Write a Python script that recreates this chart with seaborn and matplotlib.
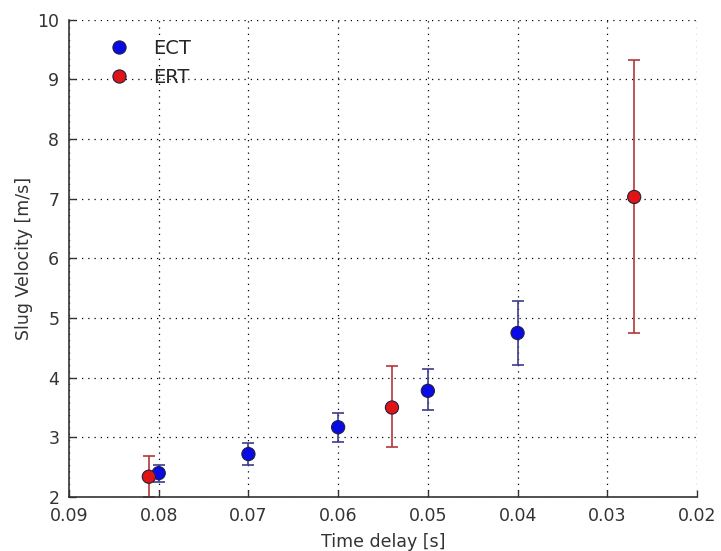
import numpy as np
import pandas as pd
import seaborn as sns
import matplotlib.pyplot as plt

# ECT measurements
ect_delay = [0.080, 0.070, 0.060, 0.050, 0.040]
ect_vel = [2.40, 2.72, 3.17, 3.78, 4.75]
ect_lo = [2.25, 2.54, 2.92, 3.46, 4.22]
ect_hi = [2.54, 2.91, 3.41, 4.14, 5.29]

# ERT measurements
ert_delay = [0.0811, 0.054, 0.027]
ert_vel = [2.34, 3.50, 7.03]
ert_lo = [2.00, 2.84, 4.75]
ert_hi = [2.68, 4.20, 9.33]

x_ticks = [0.09, 0.08, 0.07, 0.06, 0.05, 0.04, 0.03, 0.02]
y_ticks = [2, 3, 4, 5, 6, 7, 8, 9, 10]

df = pd.DataFrame({
    'delay': ect_delay + ert_delay,
    'vel': ect_vel + ert_vel,
    'method': ['ECT'] * len(ect_delay) + ['ERT'] * len(ert_delay),
})

sns.set_style('ticks')
plt.rcParams['font.family'] = ['DejaVu Sans']

fig = plt.figure(figsize=(7.21, 5.51), dpi=100)
ax = fig.add_axes([0.0957, 0.098, 0.871, 0.866])

# error bars first so the markers sit on top
ax.errorbar(ect_delay, ect_vel,
            yerr=[np.subtract(ect_vel, ect_lo), np.subtract(ect_hi, ect_vel)],
            fmt='none', ecolor='#3c3c8c', elinewidth=1.2, capsize=4, capthick=1.2, zorder=2)
ax.errorbar(ert_delay, ert_vel,
            yerr=[np.subtract(ert_vel, ert_lo), np.subtract(ert_hi, ert_vel)],
            fmt='none', ecolor='#b03838', elinewidth=1.2, capsize=4, capthick=1.2, zorder=2)

sns.scatterplot(data=df, x='delay', y='vel', hue='method',
                palette={'ECT': '#0a0ae6', 'ERT': '#e01414'},
                s=90, edgecolor='#202040', linewidth=0.8, zorder=3, ax=ax)

ax.set_xlim(0.09, 0.02)
ax.set_ylim(2, 10)
ax.set_xticks(x_ticks)
ax.set_xticklabels([f'{t:.2f}' for t in x_ticks])
ax.set_yticks(y_ticks)

ax.grid(True, color='black', linestyle=(0, (1, 4)), linewidth=0.9)
ax.tick_params(direction='in', length=5, labelsize=12.5, colors='#333333', width=1)
ax.tick_params(axis='x', pad=7)
ax.tick_params(axis='y', pad=7)
sns.despine(ax=ax)
for s in ['left', 'bottom']:
    ax.spines[s].set_color('#333333')
    ax.spines[s].set_linewidth(1.2)

ax.set_xlabel('Time delay [s]', fontsize=12.5, color='#333333', labelpad=6)
ax.set_ylabel('Slug Velocity [m/s]', fontsize=12.5, color='#333333', labelpad=3)

handles, labels = ax.get_legend_handles_labels()
ax.legend(handles, labels, loc='upper left', frameon=False, fontsize=14,
          bbox_to_anchor=(0.049, 0.96), borderaxespad=0, borderpad=0,
          handletextpad=0.75, labelspacing=0.5, markerscale=1.0)

fig.savefig('out.png', dpi=100)
